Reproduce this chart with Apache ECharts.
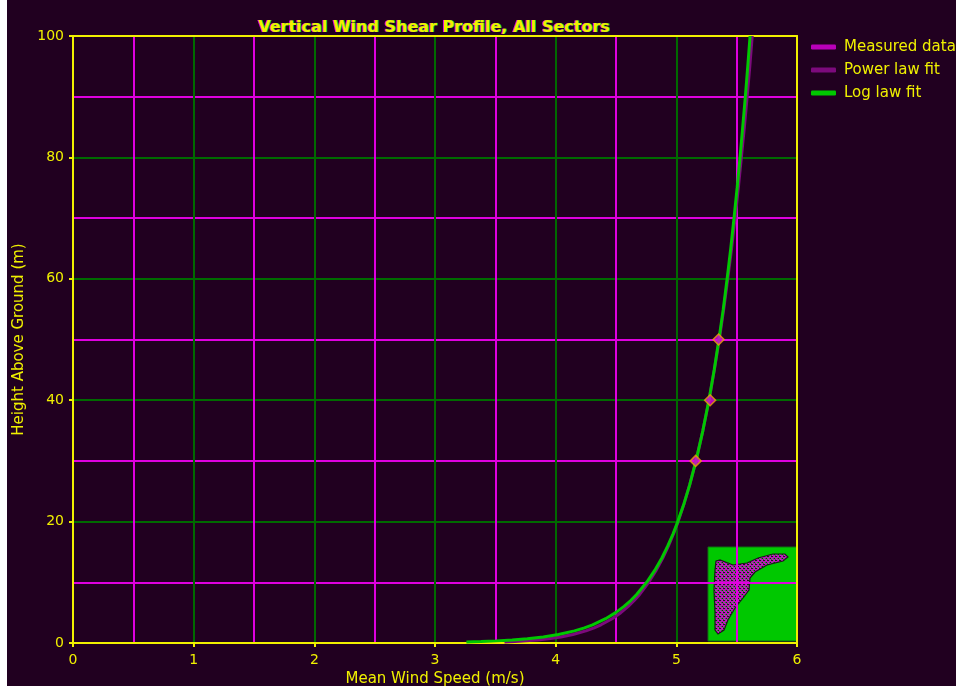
<!DOCTYPE html>
<html>
<head>
<meta charset="utf-8">
<script src="https://cdn.jsdelivr.net/npm/echarts@6/dist/echarts.min.js"></script>
<style>
  html, body { margin: 0; padding: 0; background: #210020; }
  #chart { width: 956px; height: 686px; }
</style>
</head>
<body>
<div id="chart"></div>
<script>
// Labels
const titleText = 'Vertical Wind Shear Profile, All Sectors';
const xAxisName = 'Mean Wind Speed (m/s)';
const yAxisName = 'Height Above Ground (m)';
const seriesNames = ['Measured data', 'Power law fit', 'Log law fit'];

// Measured mean wind speed at each sensor height
const measuredHeights = [30, 40, 50];
const measuredSpeeds = [5.16, 5.28, 5.35];

// Fitted profiles, sampled at these heights (m)
const fitHeights = [0.18, 0.25, 0.35, 0.5, 0.7, 1, 1.4, 2, 2.5, 3, 4, 5, 6, 7, 8, 10, 12, 14, 16, 18, 20, 23, 26, 30,
                    35, 40, 45, 50, 55, 60, 65, 70, 75, 80, 85, 90, 95, 100];
const powerLawSpeeds = [3.576, 3.662, 3.751, 3.848, 3.942, 4.044, 4.143, 4.251, 4.319, 4.376, 4.468, 4.540, 4.599, 4.651,
                        4.696, 4.771, 4.834, 4.888, 4.935, 4.977, 5.015, 5.065, 5.110, 5.163, 5.220, 5.271, 5.315, 5.356,
                        5.393, 5.426, 5.458, 5.487, 5.514, 5.539, 5.564, 5.587, 5.609, 5.629];
const logLawSpeeds = [3.260, 3.382, 3.507, 3.640, 3.765, 3.898, 4.023, 4.156, 4.239, 4.306, 4.414, 4.497, 4.564, 4.622,
                      4.671, 4.754, 4.822, 4.880, 4.929, 4.973, 5.012, 5.064, 5.110, 5.163, 5.220, 5.270, 5.314, 5.353,
                      5.389, 5.421, 5.451, 5.478, 5.504, 5.528, 5.550, 5.572, 5.592, 5.611];

// Palette
const BG = '#210020';
const YELLOW = '#f0f000';
const MAGENTA = '#e000e0';
const GRID_GREEN = '#006a00';
const CURVE_GREEN = '#00c800';
const PURPLE = '#7c0a7c';
const FONT = '"DejaVu Sans", Verdana, sans-serif';

// Speckled texture for the corner logo
function speckle() {
  const c = document.createElement('canvas');
  c.width = 4; c.height = 4;
  const g = c.getContext('2d');
  g.fillStyle = '#b020b0'; g.fillRect(0, 0, 4, 4);
  g.fillStyle = '#1a1a1a'; g.fillRect(0, 0, 1, 1); g.fillRect(2, 2, 1, 1); g.fillRect(3, 0, 1, 1);
  g.fillStyle = '#20a020'; g.fillRect(1, 2, 1, 1); g.fillRect(3, 3, 1, 1);
  g.fillStyle = '#e000e0'; g.fillRect(2, 0, 1, 1); g.fillRect(0, 3, 1, 1);
  return c;
}

const chart = echarts.init(document.getElementById('chart'), null, { renderer: 'canvas' });

const titleStyle = (color) => ({ color, fontSize: 16, fontWeight: 'bold', fontFamily: FONT });

chart.setOption({
  backgroundColor: BG,
  animation: false,
  title: [
    { text: titleText, left: 428, top: 15, textAlign: 'center', textStyle: titleStyle(MAGENTA) },
    { text: titleText, left: 430, top: 15, textAlign: 'center', textStyle: titleStyle('#20d020') },
    { text: titleText, left: 429, top: 15, textAlign: 'center', textStyle: titleStyle(YELLOW) }
  ],
  legend: {
    orient: 'vertical',
    left: 811,
    top: 39,
    padding: 0,
    itemWidth: 25,
    itemHeight: 5,
    itemGap: 7,
    icon: 'roundRect',
    itemStyle: { borderWidth: 0 },
    textStyle: { color: YELLOW, fontSize: 15, fontFamily: FONT, lineHeight: 16, padding: [0, 0, 0, 3] },
    data: seriesNames
  },
  grid: { left: 73, right: 159, top: 36, bottom: 43, outerBoundsMode: 'none' },
  xAxis: [
    {
      type: 'value', min: 0, max: 6, interval: 1, position: 'bottom',
      name: xAxisName, nameLocation: 'middle', nameGap: 27,
      nameTextStyle: { color: YELLOW, fontSize: 15, fontFamily: FONT },
      axisLine: { show: true, onZero: false, lineStyle: { color: YELLOW, width: 2 } },
      axisTick: { show: true, length: 4, lineStyle: { color: YELLOW, width: 2 } },
      axisLabel: { color: YELLOW, fontSize: 14, fontFamily: FONT, margin: 10 },
      splitLine: { show: true, lineStyle: { color: GRID_GREEN, width: 2 } },
      minorTick: { show: false, splitNumber: 2 },
      minorSplitLine: { show: true, lineStyle: { color: MAGENTA, width: 2 } }
    },
    {
      type: 'value', min: 0, max: 6, position: 'top',
      axisLine: { show: true, onZero: false, lineStyle: { color: YELLOW, width: 2 } },
      axisTick: { show: false }, axisLabel: { show: false }, splitLine: { show: false }
    }
  ],
  yAxis: [
    {
      type: 'value', min: 0, max: 100, interval: 20, position: 'left',
      name: yAxisName, nameLocation: 'middle', nameGap: 44,
      nameTextStyle: { color: YELLOW, fontSize: 15, fontFamily: FONT },
      axisLine: { show: true, onZero: false, lineStyle: { color: YELLOW, width: 2 } },
      axisTick: { show: true, length: 4, lineStyle: { color: YELLOW, width: 2 } },
      axisLabel: { color: YELLOW, fontSize: 14, fontFamily: FONT, margin: 9 },
      splitLine: { show: true, lineStyle: { color: GRID_GREEN, width: 2 } },
      minorTick: { show: false, splitNumber: 2 },
      minorSplitLine: { show: true, lineStyle: { color: MAGENTA, width: 2 } }
    },
    {
      type: 'value', min: 0, max: 100, position: 'right',
      axisLine: { show: true, onZero: false, lineStyle: { color: YELLOW, width: 2 } },
      axisTick: { show: false }, axisLabel: { show: false }, splitLine: { show: false }
    }
  ],
  series: [
    {
      name: seriesNames[1], type: 'line', showSymbol: false, z: 3,
      color: PURPLE,
      lineStyle: { color: PURPLE, width: 3 },
      data: fitHeights.map((h, i) => [powerLawSpeeds[i], h])
    },
    {
      name: seriesNames[2], type: 'line', showSymbol: false, z: 4,
      color: CURVE_GREEN,
      lineStyle: { color: CURVE_GREEN, width: 3 },
      data: fitHeights.map((h, i) => [logLawSpeeds[i], h])
    },
    {
      name: seriesNames[0], type: 'scatter', z: 5,
      symbol: 'diamond', symbolSize: 11,
      color: MAGENTA,
      itemStyle: { color: MAGENTA, borderColor: '#e8a400', borderWidth: 1.5 },
      data: measuredHeights.map((h, i) => [measuredSpeeds[i], h])
    }
  ],
  graphic: [
    // left page margin
    { type: 'rect', z: 100, shape: { x: 0, y: 0, width: 7, height: 686 }, style: { fill: '#ffffff' } },
    // corner logo, sitting beneath the grid lines
    {
      type: 'group', z: -1,
      children: [
        { type: 'rect', shape: { x: 708, y: 547, width: 89, height: 94 }, style: { fill: '#00c800', stroke: '#107010', lineWidth: 1 } },
        {
          type: 'polygon',
          shape: {
            points: [[716, 561], [720, 560], [733, 565], [747, 563], [758, 558], [773, 554], [785, 554], [788, 557],
                     [783, 561], [767, 565], [755, 572], [750, 578], [749, 590], [743, 598], [735, 608], [728, 620],
                     [724, 630], [718, 634], [715, 630], [715, 613], [714, 590], [715, 570]]
          },
          style: { fill: { image: speckle(), repeat: 'repeat' }, stroke: '#1a1a1a', lineWidth: 1.2 }
        }
      ]
    }
  ]
});
</script>
</body>
</html>
